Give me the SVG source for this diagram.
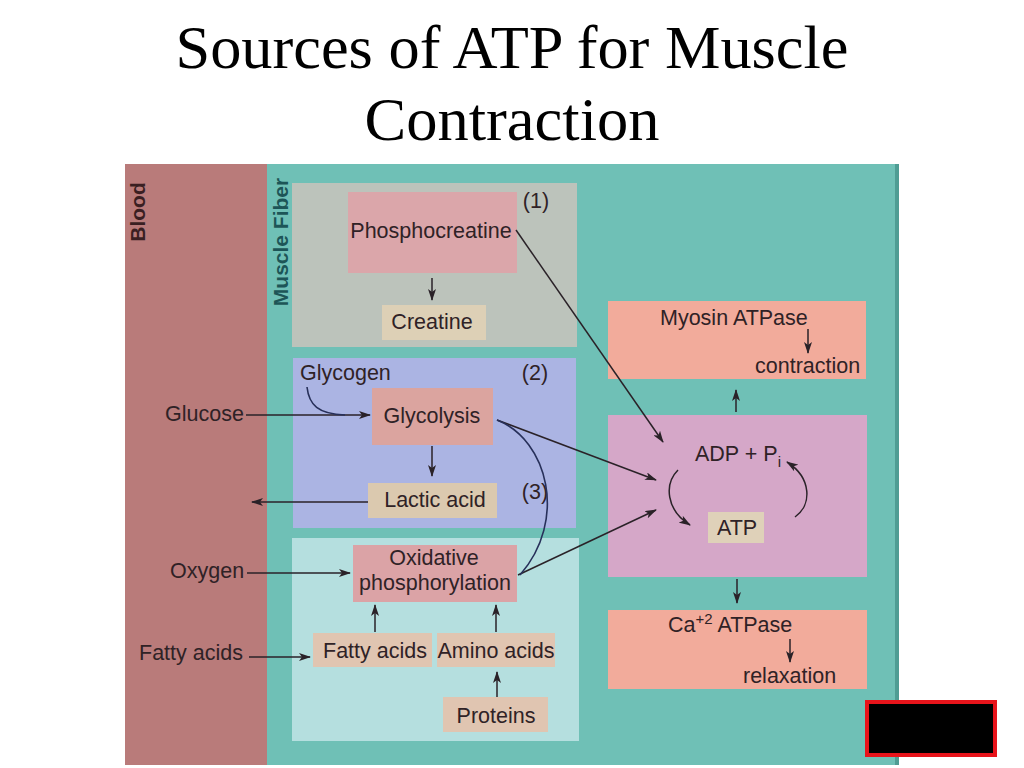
<svg xmlns="http://www.w3.org/2000/svg" width="1024" height="768" viewBox="0 0 1024 768">
<defs>
<marker id="ah" viewBox="0 0 12 8" refX="11" refY="4" markerWidth="12" markerHeight="8" markerUnits="userSpaceOnUse" orient="auto">
<path d="M0,0 L12,4 L0,8 L3,4 Z" fill="#2a2228"/>
</marker>
<style>
.t{font-family:"Liberation Sans",Arial,sans-serif;font-size:21.5px;fill:#2f2226}
.c{text-anchor:middle}
.ln{fill:none;stroke:#2a2228;stroke-width:1.5}
.bl{fill:none;stroke:#27305a;stroke-width:1.6}
.title{font-family:"Liberation Serif","Times New Roman",serif;font-size:62px;fill:#000;text-anchor:middle}
.side{font-family:"Liberation Sans",Arial,sans-serif;font-weight:bold;font-size:21px;text-anchor:middle}
</style>
</defs>
<rect width="1024" height="768" fill="#ffffff"/>
<text class="title" x="512" y="68" textLength="673" lengthAdjust="spacingAndGlyphs">Sources of ATP for Muscle</text>
<text class="title" x="512" y="140" textLength="295" lengthAdjust="spacingAndGlyphs">Contraction</text>

<g id="blood">
<rect x="125" y="164" width="143" height="601" fill="#b97b7a"/>
<text class="side" x="0" y="0" transform="translate(145,212) rotate(-90)" fill="#3a1f22">Blood</text>
</g>
<g id="muscle-fiber">
<rect x="267" y="164" width="632" height="601" fill="#6fc0b6"/>
<rect x="895" y="164" width="4" height="601" fill="#4f9d94"/>
<text class="side" x="0" y="0" transform="translate(288,242) rotate(-90)" fill="#1d5557">Muscle Fiber</text>
</g>

<g id="panel1">
<rect x="292" y="183" width="285" height="164" fill="#bcc3bb"/>
<text class="t c" x="536" y="208">(1)</text>
</g>
<g id="panel2">
<rect x="293" y="358" width="283" height="170" fill="#abb4e3"/>
<text class="t" x="300" y="380">Glycogen</text>
<text class="t c" x="535" y="380">(2)</text>
<text class="t c" x="535" y="499">(3)</text>
</g>
<g id="panel3">
<rect x="292" y="538" width="287" height="203" fill="#b5dfdf"/>
</g>

<g id="phosphocreatine">
<rect x="348" y="192" width="169" height="81" fill="#dba6aa"/>
<text class="t c" x="431" y="238">Phosphocreatine</text>
</g>
<g id="creatine">
<rect x="382" y="305" width="104" height="35" fill="#ddd0b6"/>
<text class="t c" x="432" y="329">Creatine</text>
</g>
<g id="glycolysis">
<rect x="372" y="388" width="121" height="57" fill="#dba49f"/>
<text class="t c" x="432" y="423">Glycolysis</text>
</g>
<g id="lactic-acid">
<rect x="368" y="483" width="129" height="35" fill="#dbc9af"/>
<text class="t c" x="435" y="507">Lactic acid</text>
</g>
<g id="oxidative">
<rect x="353" y="545" width="164" height="57" fill="#dba3a6"/>
<text class="t c" x="434" y="565">Oxidative</text>
<text class="t c" x="435" y="590">phosphorylation</text>
</g>
<g id="fatty-acids">
<rect x="313" y="633" width="119" height="34" fill="#e0c5b1"/>
<text class="t c" x="375" y="658">Fatty acids</text>
</g>
<g id="amino-acids">
<rect x="437" y="633" width="118" height="34" fill="#e0c5b1"/>
<text class="t c" x="496" y="658">Amino acids</text>
</g>
<g id="proteins">
<rect x="443" y="697" width="105" height="35" fill="#e0c5b1"/>
<text class="t c" x="496" y="723">Proteins</text>
</g>

<g id="blood-labels">
<text class="t" x="165" y="421">Glucose</text>
<text class="t" x="170" y="578">Oxygen</text>
<text class="t" x="139" y="660">Fatty acids</text>
</g>

<g id="myosin">
<rect x="608" y="301" width="258" height="78" fill="#f2ab9b"/>
<text class="t" x="660" y="325">Myosin ATPase</text>
<text class="t" x="755" y="373">contraction</text>
</g>
<g id="atp-pool">
<rect x="608" y="415" width="259" height="162" fill="#d5a7c8"/>
<text class="t" x="695" y="461">ADP + P<tspan font-size="15" dy="6">i</tspan></text>
<rect x="708" y="512" width="56" height="31" fill="#dfd1b9"/>
<text class="t c" x="737" y="535">ATP</text>
</g>
<g id="ca-atpase">
<rect x="608" y="610" width="259" height="79" fill="#f2ab9b"/>
<text class="t" x="668" y="632">Ca<tspan font-size="15" dy="-8">+2</tspan><tspan dy="8"> ATPase</tspan></text>
<text class="t" x="743" y="683">relaxation</text>
</g>

<g id="connectors">
<line class="ln" x1="432" y1="278" x2="432" y2="300" marker-end="url(#ah)"/>
<line class="ln" x1="432" y1="446" x2="432" y2="476" marker-end="url(#ah)"/>
<line class="ln" x1="246" y1="415" x2="370" y2="415" marker-end="url(#ah)"/>
<path class="bl" d="M307,387 C309,405 318,414 345,415"/>
<line class="ln" x1="368" y1="502" x2="252" y2="502" marker-end="url(#ah)"/>
<line class="ln" x1="247" y1="573" x2="350" y2="573" marker-end="url(#ah)"/>
<line class="ln" x1="249" y1="657" x2="310" y2="657" marker-end="url(#ah)"/>
<line class="ln" x1="375" y1="632" x2="375" y2="605" marker-end="url(#ah)"/>
<line class="ln" x1="496" y1="632" x2="496" y2="605" marker-end="url(#ah)"/>
<line class="ln" x1="497" y1="697" x2="497" y2="672" marker-end="url(#ah)"/>
<line class="ln" x1="516" y1="230" x2="663" y2="442" marker-end="url(#ah)"/>
<line class="ln" x1="497" y1="420" x2="656" y2="480" marker-end="url(#ah)"/>
<line class="ln" x1="518" y1="575" x2="656" y2="510" marker-end="url(#ah)"/>
<path class="bl" d="M497,420 C548,440 568,520 520,575"/>
<line class="ln" x1="736" y1="412" x2="736" y2="390" marker-end="url(#ah)"/>
<line class="ln" x1="808" y1="329" x2="808" y2="353" marker-end="url(#ah)"/>
<line class="ln" x1="737" y1="579" x2="737" y2="603" marker-end="url(#ah)"/>
<line class="ln" x1="790" y1="639" x2="790" y2="662" marker-end="url(#ah)"/>
<path class="ln" d="M678,470 C664,484 666,510 690,525" marker-end="url(#ah)"/>
<path class="ln" d="M795,517 C812,505 812,478 787,462" marker-end="url(#ah)"/>
</g>

<rect x="867" y="702" width="128" height="53" fill="#000" stroke="#e8141b" stroke-width="4"/>
</svg>
